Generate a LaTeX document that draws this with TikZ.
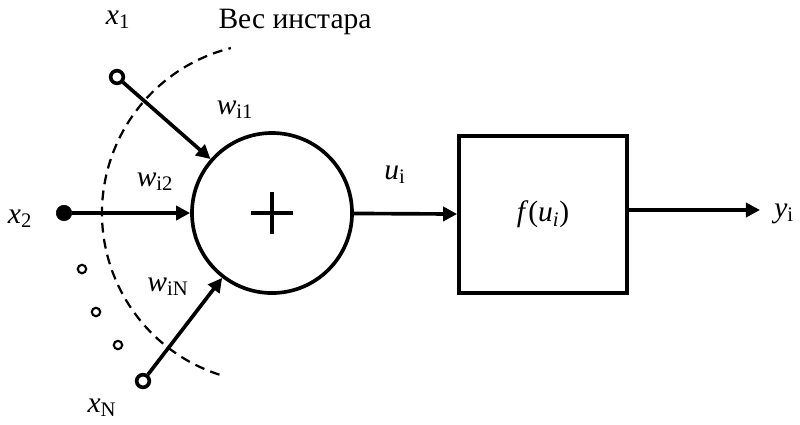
\documentclass[tikz,border=0pt]{standalone}
\usepackage{fontspec}
\setmainfont{Liberation Serif}
\usetikzlibrary{arrows.meta}
\tikzset{
  wire/.style={line width=2.6pt,-{Triangle[length=10pt,width=10pt]}},
  sum/.style={draw,circle,line width=2.6pt,minimum size=4cm,inner sep=0pt},
  fbox/.style={draw,rectangle,line width=2.6pt,minimum width=4.2cm,minimum height=3.925cm},
  inopen/.style={draw,circle,line width=2.6pt,fill=white,minimum size=9pt,inner sep=0pt},
  inclosed/.style={draw,circle,fill=black,minimum size=11pt,inner sep=0pt},
  dotin/.style={draw,circle,line width=1.5pt,minimum size=6pt,inner sep=0pt},
  lbl/.style={font=\fontsize{21}{25}\selectfont,inner sep=0pt}
}
\begin{document}
\begin{tikzpicture}[x=0.025cm,y=-0.025cm]
  \useasboundingbox (0,0) rectangle (800,424);
  % sumator
  \node[sum] (sum) at (272,213) {};
  \draw[line width=3pt] (251,213) -- (293,213) (272,192) -- (272,234);
  % funkcija
  \node[fbox,lbl] (f) at (543,214.5) {\textit{f}(\textit{u\textsubscript{i}})};

  % vhody
  \node[inopen] (x1) at (117,77) {};
  \node[inclosed] (x2) at (64,213) {};
  \node[inopen] (xN) at (143,381) {};
  \node[dotin] (d1) at (82,269) {};
  \node[dotin] (d2) at (96,312) {};
  \node[dotin] (d3) at (118,345) {};
  \node[lbl] (lx1) at (118,20) {\textit{x}\textsubscript{1}};
  \node[lbl] (lx2) at (20,219) {\textit{x}\textsubscript{2}};
  \node[lbl] (lxN) at (102,408) {\textit{x}\textsubscript{N}};

  % vesa
  \draw[line width=1.6pt,dash pattern=on 7pt off 4.5pt] (sum.center) ++(108:170) arc (108:256:170);
  \node[lbl] (ves) at (295,22) {Вес инстара};
  \node[lbl] (w1) at (235,110) {\textit{w}\textsubscript{i1}};
  \node[lbl] (w2) at (155,182) {\textit{w}\textsubscript{i2}};
  \node[lbl] (wN) at (168,287) {\textit{w}\textsubscript{iN}};

  \draw[wire] (x1) -- (sum);
  \draw[wire] (x2) -- (sum);
  \draw[wire] (xN) -- (sum);
  \draw[wire] (sum) -- (f);
  \node[lbl] (lu) at (395,175) {\textit{u}\textsubscript{i}};

  % vyhod
  \coordinate (out) at (760,210);
  \draw[wire] (f.east |- out) -- (out);
  \node[lbl,anchor=west] (ly) at (774,214) {\textit{y}\textsubscript{i}};
\end{tikzpicture}
\end{document}
